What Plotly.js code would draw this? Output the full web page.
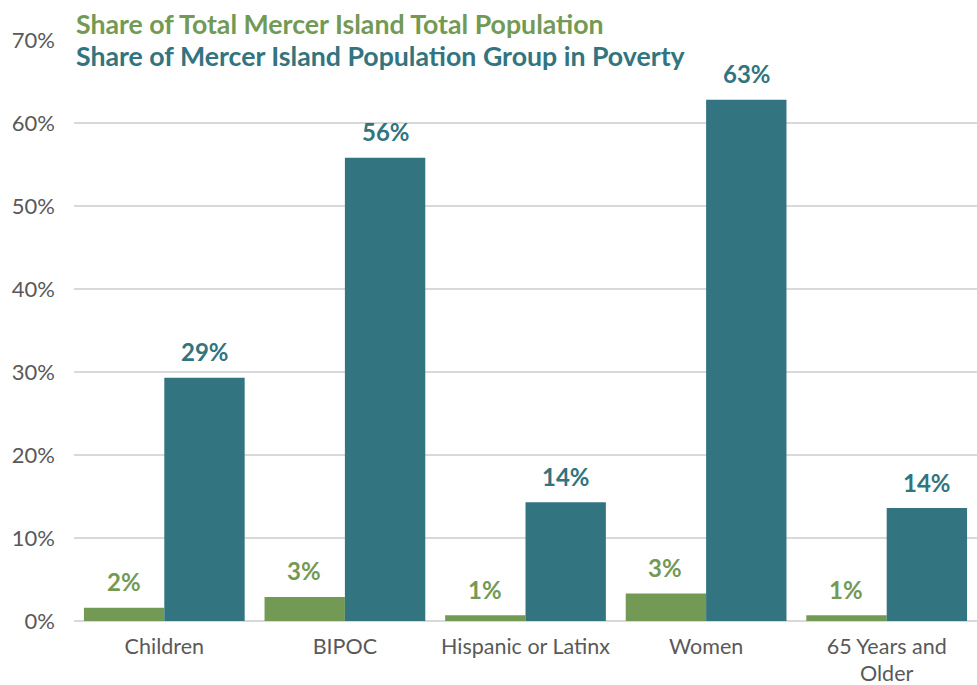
<!DOCTYPE html>
<html>
<head>
<meta charset="utf-8">
<script src="https://cdn.plot.ly/plotly-3.0.1.min.js"></script>
<style>html,body{margin:0;padding:0;background:#fff;}#chart{width:977px;height:685px;}</style>
</head>
<body>
<div id="chart"></div>
<script>
const categories = ["Children", "BIPOC", "Hispanic or Latinx", "Women", "65 Years and<br>Older"];
const totalShare = [1.6, 2.9, 0.7, 3.3, 0.7];
const povertyShare = [29.3, 55.8, 14.3, 62.8, 13.6];
const seriesNames = ["Share of Total Mercer Island Total Population", "Share of Mercer Island Population Group in Poverty"];
const colors = ["#739a55", "#327480"];

const traces = [
  {type: 'bar', x: categories, y: totalShare, name: seriesNames[0], marker: {color: colors[0]}, hoverinfo: 'skip'},
  {type: 'bar', x: categories, y: povertyShare, name: seriesNames[1], marker: {color: colors[1]}, hoverinfo: 'skip'}
];

// value labels, built from the data arrays
const labelAnns = [];
[totalShare, povertyShare].forEach((vals, si) => {
  vals.forEach((v, i) => {
    labelAnns.push({
      xref: 'x', yref: 'y', x: categories[i], y: v, xshift: si === 0 ? -40.7 : 40.7,
      yanchor: 'middle', yshift: 26, showarrow: false,
      text: '<b>' + Math.round(v) + '%</b>',
      font: {family: 'Lato', size: 24, color: colors[si]}
    });
  });
});

const layout = {
  width: 977, height: 685,
  margin: {l: 74, r: 0, t: 40, b: 64},
  paper_bgcolor: '#fff', plot_bgcolor: '#fff',
  showlegend: false,
  barmode: 'group', bargap: 0.11, bargroupgap: 0,
  font: {family: 'Lato', color: '#595959', size: 21.5},
  xaxis: {tickfont: {family: 'Lato', size: 21.5, color: '#595959'}, showline: false, ticks: '',
          ticklabelstandoff: 10, automargin: false},
  yaxis: {range: [0, 70], dtick: 10, ticksuffix: '%', gridcolor: '#d9d9d9', gridwidth: 1.5,
          zeroline: true, zerolinecolor: '#d9d9d9', zerolinewidth: 1.5,
          tickfont: {family: 'Lato', size: 22, color: '#595959'}, ticks: '',
          ticklabelstandoff: 18, automargin: false},
  annotations: [
    {xref: 'paper', yref: 'paper', x: 0, xanchor: 'left', y: 1, yshift: 16, yanchor: 'middle', showarrow: false,
     text: '<b>' + seriesNames[0] + '</b>', font: {family: 'Lato', size: 26.7, color: colors[0]}},
    {xref: 'paper', yref: 'paper', x: 0, xanchor: 'left', y: 1, yshift: -16, yanchor: 'middle', showarrow: false,
     text: '<b>' + seriesNames[1] + '</b>', font: {family: 'Lato', size: 26.7, color: colors[1]}}
  ].concat(labelAnns)
};

Plotly.newPlot('chart', traces, layout, {displayModeBar: false, staticPlot: true});
</script>
</body>
</html>
